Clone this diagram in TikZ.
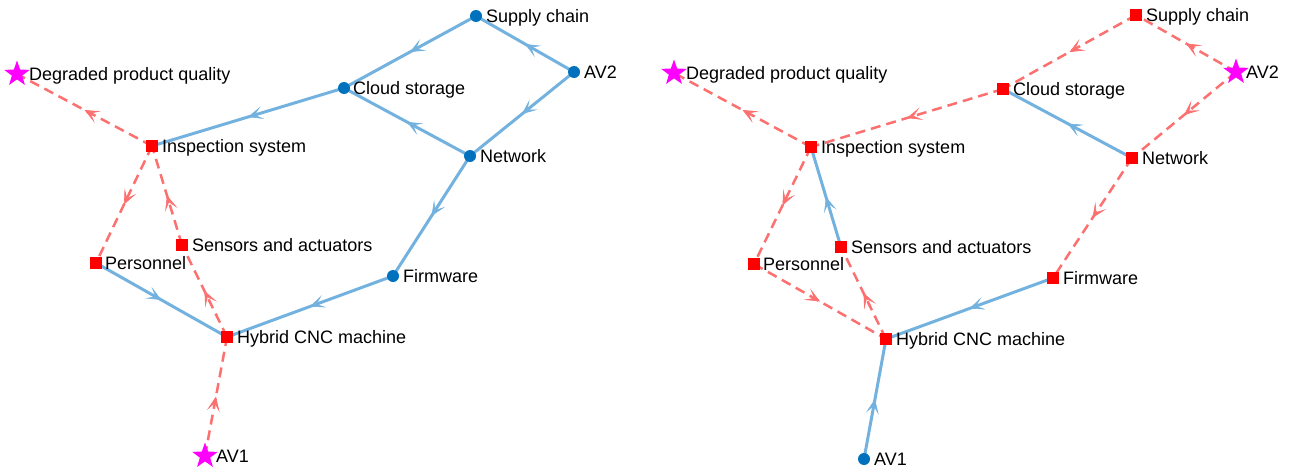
\documentclass[tikz,border=0pt]{standalone}
\usepackage{fontspec}
\setmainfont{Liberation Sans}
\usetikzlibrary{arrows.meta,decorations.markings,shapes.geometric}
\pgfdeclarelayer{bg}
\pgfsetlayers{bg,main}
\definecolor{eblue}{RGB}{115,178,222}
\definecolor{ered}{RGB}{252,112,112}
\definecolor{nblue}{RGB}{0,114,189}
\definecolor{nred}{RGB}{255,0,0}
\definecolor{smag}{RGB}{255,0,255}
\tikzset{
 dotnode/.style={circle,fill=nblue,inner sep=0,minimum size=12pt},
 sqnode/.style={rectangle,fill=nred,inner sep=0,minimum size=12pt},
 starnode/.style={star,star points=5,star point ratio=2.5,fill=smag,inner sep=0,minimum size=27pt},
 lab/.style={anchor=base west,inner sep=0,font=\fontsize{18}{20}\selectfont},
 midarrow/.style={postaction={decorate},decoration={markings,mark=at position 0.5 with {\arrow{Stealth[length=15pt,width=13pt,inset=8pt,line width=0.6pt]}}}},
 bedge/.style={draw=eblue,line width=3pt,midarrow},
 redge/.style={draw=ered,line width=2.5pt,dash pattern=on 10pt off 6pt,midarrow},
}
\begin{document}
\begin{tikzpicture}[x=1pt,y=-1pt]
\path[use as bounding box] (0,0) rectangle (1291,474);
% ---------- left graph ----------
\node[dotnode] (a-sc) at (476,16) {};
\node[dotnode] (a-av2) at (574,72) {};
\node[dotnode] (a-cs) at (344,88) {};
\node[dotnode] (a-nw) at (470,156) {};
\node[sqnode] (a-is) at (152,146) {};
\node[starnode] (a-dq) at (17,74) {};
\node[sqnode] (a-sa) at (182,245) {};
\node[sqnode] (a-pe) at (96,263) {};
\node[dotnode] (a-fw) at (393,276) {};
\node[sqnode] (a-hc) at (227,337) {};
\node[starnode] (a-av1) at (205,456) {};
\node[lab] (a-sc-l) at ([shift={(10,6.5)}]a-sc.center) {Supply chain};
\node[lab] (a-av2-l) at ([shift={(10,6.5)}]a-av2.center) {AV2};
\node[lab] (a-cs-l) at ([shift={(9,6.5)}]a-cs.center) {Cloud storage};
\node[lab] (a-nw-l) at ([shift={(10,6.5)}]a-nw.center) {Network};
\node[lab] (a-is-l) at ([shift={(10,6.5)}]a-is.center) {Inspection system};
\node[lab] (a-dq-l) at ([shift={(12,6.5)}]a-dq.center) {Degraded product quality};
\node[lab] (a-sa-l) at ([shift={(10,6.5)}]a-sa.center) {Sensors and actuators};
\node[lab] (a-pe-l) at ([shift={(9,6.5)}]a-pe.center) {Personnel};
\node[lab] (a-fw-l) at ([shift={(10,6.5)}]a-fw.center) {Firmware};
\node[lab] (a-hc-l) at ([shift={(10,6.5)}]a-hc.center) {Hybrid CNC machine};
\node[lab] (a-av1-l) at ([shift={(11,6.5)}]a-av1.center) {AV1};
% ---------- right graph ----------
\node[sqnode] (b-sc) at (1136,15) {};
\node[starnode] (b-av2) at (1236,72) {};
\node[sqnode] (b-cs) at (1003,89) {};
\node[sqnode] (b-nw) at (1132,158) {};
\node[sqnode] (b-is) at (811,147) {};
\node[starnode] (b-dq) at (674,73) {};
\node[sqnode] (b-sa) at (841,247) {};
\node[sqnode] (b-pe) at (754,264) {};
\node[sqnode] (b-fw) at (1053,278) {};
\node[sqnode] (b-hc) at (886,339) {};
\node[dotnode] (b-av1) at (864,459) {};
\node[lab] (b-sc-l) at ([shift={(10,6.5)}]b-sc.center) {Supply chain};
\node[lab] (b-av2-l) at ([shift={(10,6.5)}]b-av2.center) {AV2};
\node[lab] (b-cs-l) at ([shift={(10,6.5)}]b-cs.center) {Cloud storage};
\node[lab] (b-nw-l) at ([shift={(10,6.5)}]b-nw.center) {Network};
\node[lab] (b-is-l) at ([shift={(10,6.5)}]b-is.center) {Inspection system};
\node[lab] (b-dq-l) at ([shift={(12,6.5)}]b-dq.center) {Degraded product quality};
\node[lab] (b-sa-l) at ([shift={(10,6.5)}]b-sa.center) {Sensors and actuators};
\node[lab] (b-pe-l) at ([shift={(9,6.5)}]b-pe.center) {Personnel};
\node[lab] (b-fw-l) at ([shift={(10,6.5)}]b-fw.center) {Firmware};
\node[lab] (b-hc-l) at ([shift={(10,6.5)}]b-hc.center) {Hybrid CNC machine};
\node[lab] (b-av1-l) at ([shift={(10,6.5)}]b-av1.center) {AV1};
\begin{pgfonlayer}{bg}
% left edges
\path[bedge] (a-av2.center) -- (a-sc.center);
\path[bedge] (a-av2.center) -- (a-nw.center);
\path[bedge] (a-sc.center) -- (a-cs.center);
\path[bedge] (a-nw.center) -- (a-cs.center);
\path[bedge] (a-cs.center) -- (a-is.center);
\path[bedge] (a-nw.center) -- (a-fw.center);
\path[bedge] (a-fw.center) -- (a-hc.center);
\path[bedge] (a-pe.center) -- (a-hc.center);
\path[redge] (a-is.center) -- (a-dq.center);
\path[redge] (a-is.center) -- (a-pe.center);
\path[redge] (a-hc.center) -- (a-sa.center);
\path[redge] (a-sa.center) -- (a-is.center);
\path[redge] (a-av1.center) -- (a-hc.center);
% right edges
\path[redge] (b-av2.center) -- (b-sc.center);
\path[redge] (b-av2.center) -- (b-nw.center);
\path[redge] (b-sc.center) -- (b-cs.center);
\path[bedge] (b-nw.center) -- (b-cs.center);
\path[redge] (b-cs.center) -- (b-is.center);
\path[redge] (b-nw.center) -- (b-fw.center);
\path[bedge] (b-fw.center) -- (b-hc.center);
\path[redge] (b-pe.center) -- (b-hc.center);
\path[redge] (b-is.center) -- (b-dq.center);
\path[redge] (b-is.center) -- (b-pe.center);
\path[redge] (b-hc.center) -- (b-sa.center);
\path[bedge] (b-sa.center) -- (b-is.center);
\path[bedge] (b-av1.center) -- (b-hc.center);
\end{pgfonlayer}
\end{tikzpicture}
\end{document}
